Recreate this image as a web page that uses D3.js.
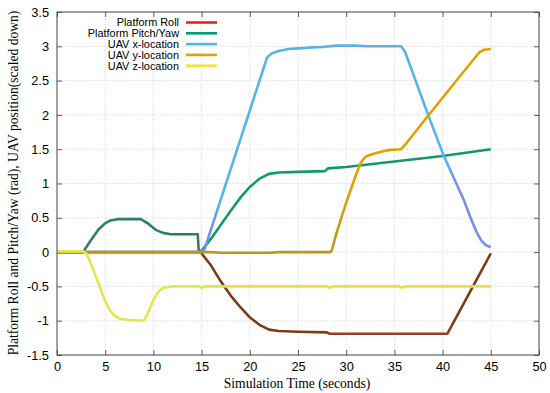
<!DOCTYPE html>
<html lang="en">
<head>
  <meta charset="UTF-8">
  <title>Platform and UAV</title>
  <style>
    html, body { margin: 0; padding: 0; background: #fff; }
    svg { display: block; }
    .tick text { font-family: 'Liberation Sans', Arial, sans-serif; font-size: 12.8px; fill: #000; }
    .title { font-family: 'Liberation Serif', 'Times New Roman', serif; font-size: 13.6px; fill: #000; }
    .legend text { font-family: 'Liberation Sans', Arial, sans-serif; font-size: 10.9px; fill: #000; }
  </style>
  <script src="https://cdn.jsdelivr.net/npm/d3@7"></script>
</head>
<body>
  <svg id="chart" width="550" height="393"></svg>
  <script>
    //
    // Data
    //
    var seriesNames = ['Platform Roll', 'Platform Pitch/Yaw', 'UAV x-location', 'UAV y-location', 'UAV z-location']

    var rollData = [
      [0, 0], [14.8, 0], [15, -0.02], [16, -0.2], [17, -0.43], [18, -0.63], [19, -0.8],
      [20, -0.95], [21, -1.06], [22, -1.13], [23, -1.15], [25, -1.16], [28, -1.17],
      [28.3, -1.19], [40.5, -1.19], [45, -0.02]
    ]
    var pitchData = [
      [0, 0], [2.7, 0], [3.5, 0.17], [4.3, 0.33], [5, 0.42], [5.5, 0.46], [6.3, 0.48],
      [8.7, 0.48], [9.5, 0.41], [10.3, 0.32], [11, 0.28], [11.8, 0.26], [14.6, 0.26],
      [14.7, 0.02], [15, 0.02], [16, 0.2], [17, 0.4], [18, 0.6], [19, 0.79], [20, 0.95],
      [21, 1.07], [22, 1.14], [23, 1.16], [25, 1.17], [27.8, 1.18], [28.1, 1.22],
      [30, 1.24], [35, 1.32], [40, 1.4], [45, 1.5]
    ]
    var xLocData = [
      [0, 0], [15, 0], [15.3, 0.04], [21.8, 2.84], [22.3, 2.9], [23, 2.93], [24, 2.96],
      [25, 2.97], [26, 2.98], [27.5, 2.99], [29, 3.01], [31, 3.01], [32, 3.0],
      [35.7, 3.0], [36.1, 2.92], [38.5, 2.0], [40.1, 1.41], [42.2, 0.76], [42.9, 0.5],
      [43.5, 0.3], [44, 0.17], [44.5, 0.1], [45, 0.07]
    ]
    var yLocData = [
      [0, 0], [16, 0], [17, -0.01], [22, -0.01], [23, 0], [28.3, 0], [28.5, 0.02],
      [29, 0.28], [30, 0.72], [31, 1.12], [31.5, 1.3], [32, 1.39], [32.5, 1.42],
      [33.5, 1.46], [34.5, 1.49], [35.7, 1.5], [36.2, 1.58], [38, 1.9], [40, 2.25],
      [42, 2.6], [43.8, 2.91], [44.3, 2.95], [45, 2.96]
    ]
    var zLocData = [
      [0, 0.01], [2.7, 0.01], [3.1, -0.03], [3.5, -0.16], [4.3, -0.45], [5, -0.72],
      [5.5, -0.85], [6, -0.93], [6.5, -0.97], [7.5, -0.99], [9, -1.0], [9.3, -0.93],
      [10, -0.7], [10.5, -0.58], [11, -0.52], [12, -0.5], [14.8, -0.5], [15, -0.52],
      [15.3, -0.5], [28, -0.5], [28.3, -0.52], [28.6, -0.5], [35.5, -0.5],
      [35.8, -0.52], [36.1, -0.5], [45, -0.5]
    ]

    var xTicks = [0, 5, 10, 15, 20, 25, 30, 35, 40, 45, 50]
    var yTicks = [-1.5, -1, -0.5, 0, 0.5, 1, 1.5, 2, 2.5, 3, 3.5]

    //
    // Styles
    //
    var legendColors = ['#e8261c', '#009e73', '#56b4e9', '#e69f00', '#f0e442']
    // colour along time of each drawn line, as it looks in the picture
    var lineStops = [
      [[0, '#b09a1e'], [14.8, '#b09a1e'], [14.9, '#7c3c16'], [28, '#7c3c16'], [28.3, '#9a3e1a'], [40.5, '#9a3e1a'], [41, '#7c3c16']],
      [[0, '#2f7b6c'], [14.9, '#2f7b6c'], [15.2, '#0f9a6c'], [45, '#0f9a6c']],
      [[0, '#7b8ee6'], [16, '#7b8ee6'], [17, '#56b4e9'], [40.5, '#56b4e9'], [41.5, '#7b8ee6'], [45, '#7b8ee6']],
      [[0, '#b49c1a'], [28.4, '#b49c1a'], [29.5, '#c9a012'], [30.5, '#e69f00'], [45, '#e69f00']],
      [[0, '#e2e84c'], [14.8, '#e2e84c'], [15.2, '#e8e042'], [45, '#e8e042']]
    ]
    var allData = [rollData, pitchData, xLocData, yLocData, zLocData]

    var margin = { left: 57, right: 11, top: 12, bottom: 38 }
    var width = 550, height = 393
    var svg = d3.select('#chart')

    var x = d3.scaleLinear().domain([0, 50]).range([margin.left, width - margin.right])
    var y = d3.scaleLinear().domain([-1.5, 3.5]).range([height - margin.bottom, margin.top])

    // grid
    var grid = svg.append('g').attr('stroke', '#bbb').attr('stroke-width', 0.6).attr('stroke-dasharray', '1,1.5')
    grid.selectAll('.gx').data(xTicks.slice(1, -1)).enter().append('line')
      .attr('x1', function (d) { return x(d) }).attr('x2', function (d) { return x(d) })
      .attr('y1', y(-1.5)).attr('y2', y(3.5))
    grid.selectAll('.gy').data(yTicks.slice(1, -1)).enter().append('line')
      .attr('y1', function (d) { return y(d) }).attr('y2', function (d) { return y(d) })
      .attr('x1', x(0)).attr('x2', x(50))

    // axes, ticks inward and mirrored
    function styleAxis(g) {
      g.select('.domain').remove()
      g.selectAll('.tick line').attr('stroke', '#333').attr('stroke-width', 0.8)
    }
    svg.append('g').attr('transform', 'translate(0,' + y(-1.5) + ')')
      .call(d3.axisBottom(x).tickValues(xTicks).tickSize(-5).tickPadding(7).tickFormat(d3.format('d')))
      .call(styleAxis)
    svg.append('g').attr('transform', 'translate(0,' + y(3.5) + ')')
      .call(d3.axisTop(x).tickValues(xTicks).tickSize(-5).tickFormat(''))
      .call(styleAxis)
    svg.append('g').attr('transform', 'translate(' + x(0) + ',0)')
      .call(d3.axisLeft(y).tickValues(yTicks).tickSize(-5).tickPadding(8).tickFormat(function (d) { return String(d) }))
      .call(styleAxis)
    svg.append('g').attr('transform', 'translate(' + x(50) + ',0)')
      .call(d3.axisRight(y).tickValues(yTicks).tickSize(-5).tickFormat(''))
      .call(styleAxis)

    // gradients
    var defs = svg.append('defs')
    lineStops.forEach(function (stops, i) {
      var grad = defs.append('linearGradient').attr('id', 'g' + i)
        .attr('gradientUnits', 'userSpaceOnUse')
        .attr('x1', x(0)).attr('x2', x(50)).attr('y1', 0).attr('y2', 0)
      stops.forEach(function (s) {
        grad.append('stop').attr('offset', s[0] / 50).attr('stop-color', s[1])
      })
    })

    // lines
    var line = d3.line().x(function (d) { return x(d[0]) }).y(function (d) { return y(d[1]) })
    allData.forEach(function (data, i) {
      svg.append('path').datum(data)
        .attr('d', line)
        .attr('fill', 'none')
        .attr('stroke', 'url(#g' + i + ')')
        .attr('stroke-width', 2.6)
        .attr('stroke-linejoin', 'round')
    })

    // frame
    svg.append('rect')
      .attr('x', x(0)).attr('y', y(3.5))
      .attr('width', x(50) - x(0)).attr('height', y(-1.5) - y(3.5))
      .attr('fill', 'none').attr('stroke', '#444').attr('stroke-width', 1)

    // legend
    var legend = svg.append('g').attr('class', 'legend')
    seriesNames.forEach(function (name, i) {
      var ly = 22.5 + i * 10.8
      legend.append('text').attr('x', 179).attr('y', ly).attr('dy', '0.35em')
        .attr('text-anchor', 'end').text(name)
      legend.append('line').attr('x1', 186).attr('x2', 217).attr('y1', ly).attr('y2', ly)
        .attr('stroke', legendColors[i]).attr('stroke-width', 2.6)
    })

    // titles
    svg.append('text').attr('class', 'title')
      .attr('x', 297).attr('y', 388).attr('text-anchor', 'middle')
      .text('Simulation Time (seconds)')
    svg.append('text').attr('class', 'title')
      .attr('transform', 'translate(18,' + 183 + ') rotate(-90)')
      .attr('text-anchor', 'middle')
      .text('Platform Roll and Pitch/Yaw (rad), UAV position(scaled down)')
  </script>
</body>
</html>
